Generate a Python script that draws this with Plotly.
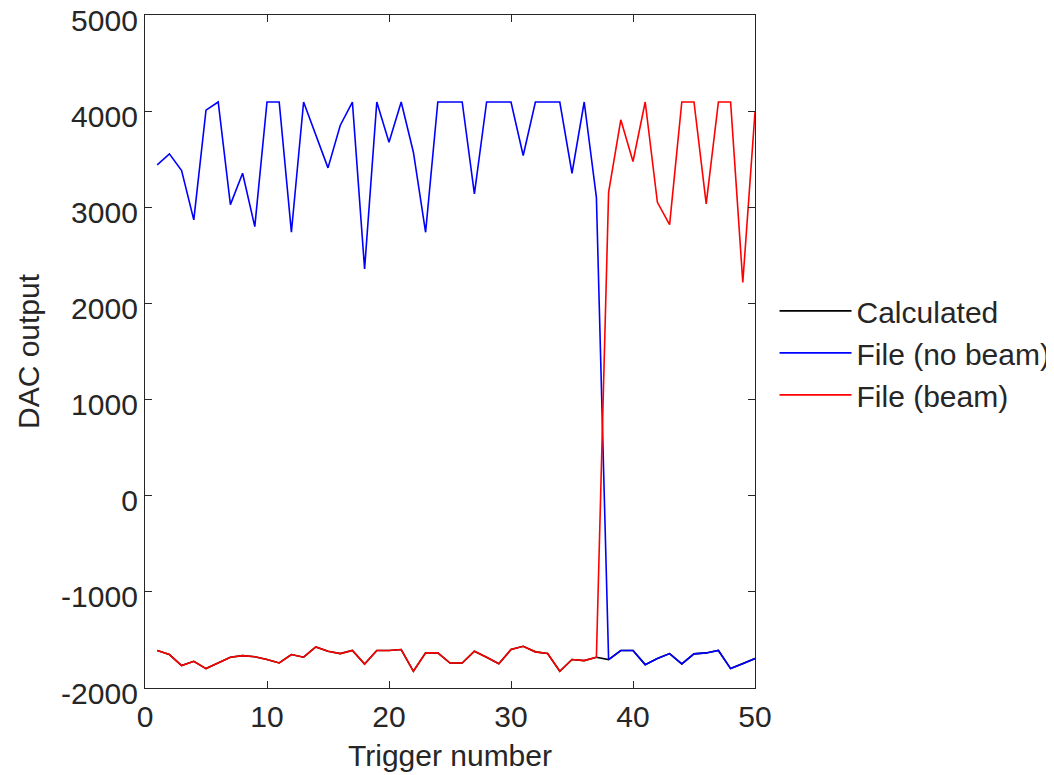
import plotly.graph_objects as go

trigger = list(range(1, 51))

file_no_beam = [3442, 3556, 3382, 2869, 4010, 4095, 3028, 3354, 2799, 4095,
                4095, 2740, 4095, 3750, 3410, 3851, 4095, 2358, 4095, 3677,
                4095, 3573, 2740, 4095, 4095, 4095, 3139, 4095, 4095, 4095,
                3539, 4095, 4095, 4095, 3354, 4095, 3104, -1704, -1610, -1610,
                -1757, -1694, -1642, -1750, -1645, -1635, -1610, -1798, -1747, -1694]

file_beam = [-1610, -1652, -1767, -1722, -1798, -1740, -1680, -1663, -1675, -1704,
             -1740, -1652, -1680, -1573, -1617, -1642, -1610, -1750, -1610, -1610,
             -1600, -1826, -1635, -1635, -1740, -1740, -1617, -1680, -1747, -1600,
             -1566, -1624, -1642, -1826, -1704, -1715, -1680, 3156, 3910, 3476,
             4095, 3052, 2820, 4095, 4095, 3035, 4095, 4095, 2219, 3990]

calculated = [min(a, b) for a, b in zip(file_no_beam, file_beam)]

x_ticks = [0, 10, 20, 30, 40, 50]
y_ticks = [-2000, -1000, 0, 1000, 2000, 3000, 4000, 5000]
y_tick_labels = ["-2000", "-1000", "0", "1000", "2000", "3000", "4000", "5000"]

FONT = "Liberation Sans, Arial, Helvetica, sans-serif"
INK = "#262626"
FS = 30

fig = go.Figure()
fig.add_trace(go.Scatter(x=trigger, y=calculated, mode="lines", name="Calculated",
                         line=dict(color="black", width=1.6)))
fig.add_trace(go.Scatter(x=trigger, y=file_no_beam, mode="lines", name="File (no beam)",
                         line=dict(color="#0000ff", width=1.6)))
fig.add_trace(go.Scatter(x=trigger, y=file_beam, mode="lines", name="File (beam)",
                         line=dict(color="#ff0000", width=1.6)))

axis_common = dict(showgrid=False, zeroline=False, showline=True, linecolor=INK,
                   linewidth=1.3, mirror="ticks", ticks="inside", ticklen=7,
                   tickwidth=1.3, tickcolor=INK, automargin=False,
                   ticklabeloverflow="allow",
                   tickfont=dict(family=FONT, size=FS, color=INK))

fig.update_layout(
    width=1046, height=767,
    margin=dict(l=137, r=299, t=7, b=87, autoexpand=False),
    paper_bgcolor="white", plot_bgcolor="white",
    font=dict(family=FONT, size=FS, color=INK),
    xaxis=dict(range=[0, 50], tickvals=x_ticks,
               title=dict(text="Trigger number", font=dict(family=FONT, size=FS, color=INK), standoff=12),
               ticklabelstandoff=2, **axis_common),
    yaxis=dict(range=[-2000, 5000], tickvals=y_ticks, ticktext=y_tick_labels,
               title=dict(text="DAC output", font=dict(family=FONT, size=FS, color=INK), standoff=12),
               ticklabelstandoff=0, ticklabelshift=5, **axis_common),
    legend=dict(x=1.032, y=0.498, xanchor="left", yanchor="middle",
                font=dict(family=FONT, size=FS, color=INK),
                bgcolor="rgba(0,0,0,0)", borderwidth=0, itemwidth=72),
    showlegend=True,
)

fig.write_html("out.html")
